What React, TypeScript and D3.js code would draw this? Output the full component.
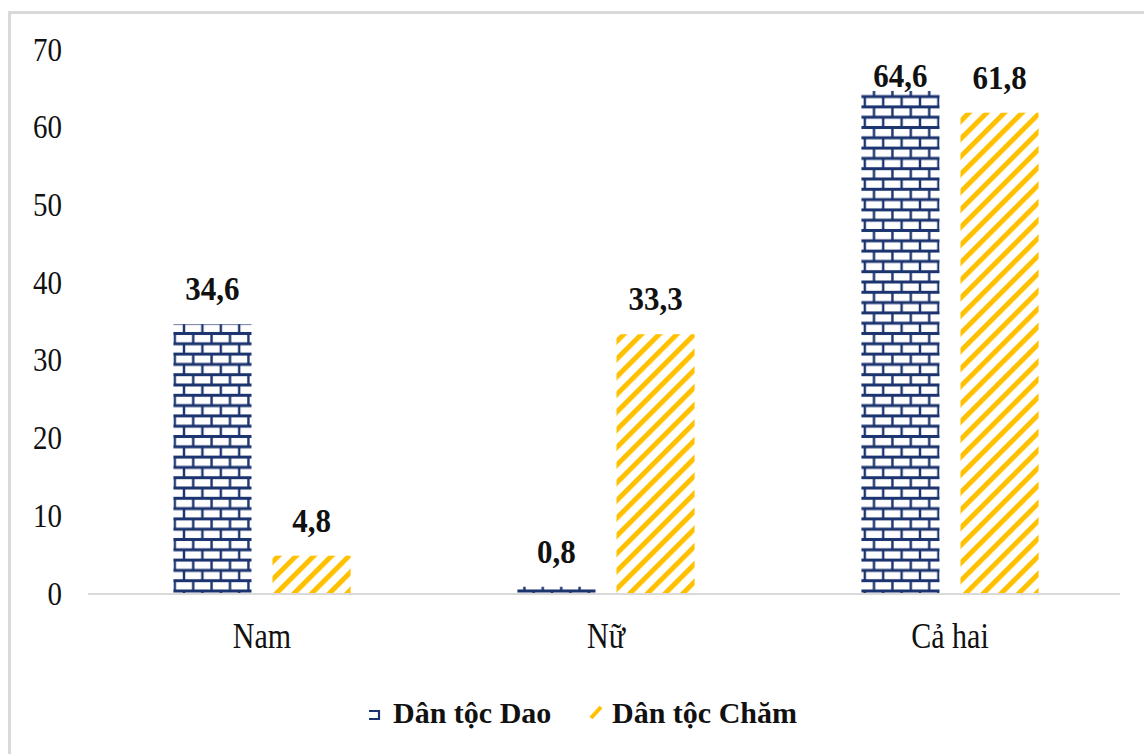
import React from "react";
import * as d3 from "d3";

const categories = ["Nam", "Nữ", "Cả hai"];
const seriesNames = ["Dân tộc Dao", "Dân tộc Chăm"];
const daoValues = [34.6, 0.8, 64.6];
const chamValues = [4.8, 33.3, 61.8];
const yTicks = [0, 10, 20, 30, 40, 50, 60, 70];

const W = 1144;
const H = 754;
const NAVY = "#1B336E";
const GOLD = "#FFC000";
const FONT = "'Liberation Serif', 'Times New Roman', serif";

const fmt = (v: number) => v.toFixed(1).replace(".", ",");

export default function App() {
  const y = d3.scaleLinear().domain([0, 70]).range([593, 49]);
  const x0 = d3.scaleBand<string>().domain(categories).range([90, 1122]).paddingInner(0.485).paddingOuter(0.2425);
  const x1 = d3.scaleBand<number>().domain([0, 1]).range([0, x0.bandwidth()]).paddingInner(0.212).paddingOuter(0);
  const series = [daoValues, chamValues];

  const bw = 18.4;
  const bh = 10.3;

  return (
    <svg width={W} height={H} style={{ position: "absolute", left: 0, top: 0, background: "#fff" }}>
      <defs>
        <pattern id="brick" patternUnits="userSpaceOnUse" width={bw} height={bh * 2} patternTransform={`translate(0, 591)`}>
          <rect x={0} y={0} width={bw} height={bh * 2} fill="#fff" />
          <rect x={0} y={-1.5} width={bw} height={3} fill={NAVY} />
          <rect x={0} y={bh - 1.5} width={bw} height={3} fill={NAVY} />
          <rect x={0} y={2 * bh - 1.5} width={bw} height={3} fill={NAVY} />
          <rect x={-1.2} y={0} width={2.4} height={bh} fill={NAVY} />
          <rect x={bw - 1.2} y={0} width={2.4} height={bh} fill={NAVY} />
          <rect x={bw / 2 - 1.2} y={bh} width={2.4} height={bh} fill={NAVY} />
        </pattern>
        <pattern id="stripe" patternUnits="userSpaceOnUse" width={12.5} height={12.5} patternTransform="rotate(45)">
          <rect x={0} y={0} width={5} height={12.5} fill={GOLD} />
        </pattern>
      </defs>

      <rect x={9.5} y={12.5} width={1300} height={900} fill="none" stroke="#d9d9d9" strokeWidth={3} />

      {yTicks.map((t) => (
        <text
          key={t}
          transform={`translate(62, ${y(t) + 11.5}) scale(1, 1.18)`}
          textAnchor="end"
          fontFamily={FONT}
          fontSize={29}
          fill="#111"
        >
          {t}
        </text>
      ))}

      {categories.map((c, ci) =>
        series.map((vals, si) => {
          const bx = (x0(c) as number) + (x1(si) as number);
          const v = vals[ci];
          const ly = Math.max(y(v) - 24, 87);
          return (
            <g key={c + si}>
              <rect
                x={bx}
                y={y(v)}
                width={x1.bandwidth()}
                height={y(0) - y(v)}
                fill={si === 0 ? "url(#brick)" : "url(#stripe)"}
              />
              <text
                transform={`translate(${bx + x1.bandwidth() / 2}, ${ly}) scale(1, 1.1)`}
                textAnchor="middle"
                fontFamily={FONT}
                fontWeight="bold"
                fontSize={31}
                fill="#111"
              >
                {fmt(v)}
              </text>
            </g>
          );
        })
      )}

      <line x1={88} x2={1120} y1={y(0) + 1} y2={y(0) + 1} stroke="#d9d9d9" strokeWidth={2} />

      {categories.map((c) => (
        <text
          key={c}
          transform={`translate(${(x0(c) as number) + x0.bandwidth() / 2}, 648) scale(1, 1.2)`}
          textAnchor="middle"
          fontFamily={FONT}
          fontSize={30}
          fill="#111"
        >
          {c}
        </text>
      ))}

      <g>
        <path d={`M369,711 H379 V719 H369`} fill="none" stroke={NAVY} strokeWidth={2.2} />
        <text x={393} y={723} fontFamily={FONT} fontWeight="bold" fontSize={30} fill="#111">
          {seriesNames[0]}
        </text>
        <path d={`M591,718 L601,707`} stroke={GOLD} strokeWidth={4} />
        <text x={612} y={723} fontFamily={FONT} fontWeight="bold" fontSize={30} fill="#111">
          {seriesNames[1]}
        </text>
      </g>
    </svg>
  );
}
